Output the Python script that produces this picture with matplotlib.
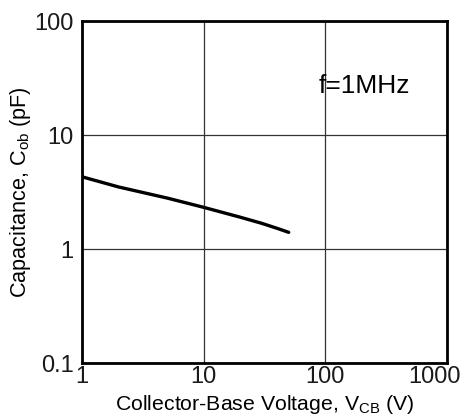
import matplotlib
matplotlib.use("Agg")
import matplotlib.pyplot as plt
import matplotlib.transforms as mtransforms
from matplotlib.ticker import FixedLocator, NullLocator, FixedFormatter

plt.rcParams['font.family'] = ['Liberation Sans', 'DejaVu Sans']
plt.rcParams['mathtext.default'] = 'regular'

# Cob vs VCB
vcb = [1, 2, 5, 10, 20, 30, 40, 50]
cob = [4.3, 3.5, 2.8, 2.32, 1.9, 1.68, 1.52, 1.4]

x_ticks = [1, 10, 100, 1000]
x_labels = ["1", "10", "100", "1000"]
y_ticks = [0.1, 1, 10, 100]
y_labels = ["0.1", "1", "10", "100"]

fig = plt.figure(figsize=(4.65, 4.17), dpi=100)
ax = fig.add_axes([82 / 465, 1 - 363 / 417, 365 / 465, 342 / 417])

ax.plot(vcb, cob, color="black", lw=2.4, solid_capstyle="round")
ax.set_xscale("log")
ax.set_yscale("log")
ax.set_xlim(1, 1000)
ax.set_ylim(0.1, 100)

ax.xaxis.set_major_locator(FixedLocator(x_ticks))
ax.xaxis.set_major_formatter(FixedFormatter(x_labels))
ax.yaxis.set_major_locator(FixedLocator(y_ticks))
ax.yaxis.set_major_formatter(FixedFormatter(y_labels))
ax.xaxis.set_minor_locator(NullLocator())
ax.yaxis.set_minor_locator(NullLocator())
ax.tick_params(length=0, labelsize=17, colors="#1a1a1a")
ax.tick_params(axis="x", pad=2)
ax.tick_params(axis="y", pad=6)

# last x label sits inside the figure, shifted left
lbl = ax.get_xticklabels()[-1]
lbl.set_transform(lbl.get_transform() + mtransforms.ScaledTranslation(-12 / 100, 0, fig.dpi_scale_trans))

ax.grid(True, color="#333333", lw=0.9)
for s in ax.spines.values():
    s.set_linewidth(2.0)

ax.set_xlabel("Collector-Base Voltage, V$_{CB}$ (V)", fontsize=15.3)
ax.set_ylabel("Capacitance, C$_{ob}$ (pF)", fontsize=15.6)
ax.xaxis.set_label_coords(0.5, -0.088)
ax.yaxis.set_label_coords(-0.134, 0.5)
ax.text(0.647, 0.789, "f=1MHz", transform=ax.transAxes, fontsize=19)

fig.savefig("out.png", dpi=100)
